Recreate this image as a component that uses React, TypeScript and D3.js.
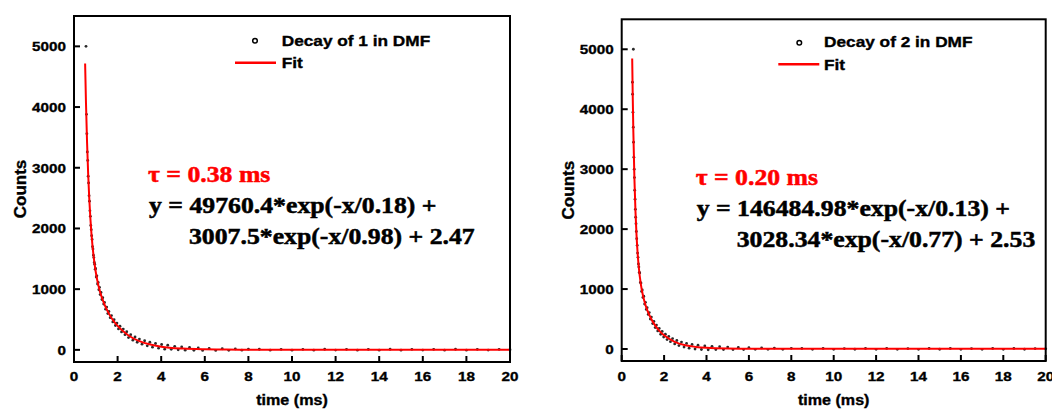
import React, { useEffect, useRef } from 'react';
import * as d3 from 'd3';

const W = 1052;
const H = 412;

const xTicks = [0, 2, 4, 6, 8, 10, 12, 14, 16, 18, 20];
const yTicks = [0, 1000, 2000, 3000, 4000, 5000];
const xDomain = [0, 20];
const yDomain = [-200, 5500];

// measured decay, sample 1 (time in ms, counts)
const decay1Time = [0.55, 0.57, 0.59, 0.61, 0.63, 0.65, 0.67, 0.69, 0.71, 0.73, 0.75, 0.77, 0.79, 0.81, 0.83, 0.85, 0.87, 0.89, 0.91, 0.93, 0.95, 0.97, 0.99, 1.02, 1.05, 1.08, 1.11, 1.14, 1.17, 1.2, 1.24, 1.28, 1.32, 1.36, 1.4, 1.45, 1.5, 1.55, 1.6, 1.66, 1.72, 1.78, 1.84, 1.9, 1.97, 2.04, 2.11, 2.18, 2.26, 2.34, 2.42, 2.5, 2.6, 2.7, 2.8, 2.9, 3.0, 3.12, 3.24, 3.36, 3.48, 3.6, 3.74, 3.88, 4.02, 4.16, 4.3, 4.46, 4.62, 4.78, 4.94, 5.1, 5.3, 5.5, 5.7, 5.9, 6.2, 6.5, 6.8, 7.1, 7.4, 7.7, 8.0, 8.5, 9, 9.5, 10, 10.5, 11, 11.5, 12, 12.5, 13, 13.5, 14, 14.5, 15, 15.5, 16, 16.5, 17, 17.5, 18, 18.5, 19, 19.5, 20];
const decay1Counts = [5000, 3880, 3560, 3260, 3120, 2860, 2750, 2540, 2450, 2290, 2200, 2050, 1980, 1880, 1820, 1700, 1660, 1560, 1520, 1440, 1410, 1330, 1340, 1200, 1220, 1085, 1110, 990, 1030, 910, 945, 830, 860, 755, 780, 670, 705, 597, 632, 530, 565, 460, 498, 401, 442, 345, 390, 296, 342, 250, 298, 202, 250, 160, 212, 125, 178, 93, 150, 67, 125, 45, 105, 27, 88, 12, 76, 10, 58, 0, 48, -5, 40, -8, 32, -10, 24, -10, 18, -8, 15, -6, 12, 10, -6, 9, -5, 8, -6, 10, -4, 9, -6, 8, -5, 10, -6, 9, -4, 8, -6, 10, -5, 9, -4, 8, 3];

// fitted curve, sample 1
const fit1Time = [0.51, 0.55, 0.6, 0.65, 0.7, 0.75, 0.8, 0.9, 1.0, 1.1, 1.2, 1.4, 1.6, 1.8, 2.0, 2.5, 3, 3.5, 4, 5, 6, 7, 8, 10, 14, 20];
const fit1Counts = [4717, 4061, 3408, 2897, 2493, 2172, 1915, 1538, 1278, 1091, 949, 744, 597, 483, 394, 237, 143, 87, 53, 21, 9, 5, 3, 2.5, 2.5, 2.5];

// measured decay, sample 2
const decay2Time = [0.55, 0.505, 0.515, 0.53, 0.545, 0.56, 0.575, 0.59, 0.6, 0.615, 0.63, 0.645, 0.66, 0.675, 0.69, 0.71, 0.73, 0.75, 0.77, 0.79, 0.81, 0.83, 0.85, 0.88, 0.91, 0.94, 0.97, 1.0, 1.04, 1.08, 1.12, 1.16, 1.2, 1.25, 1.3, 1.35, 1.4, 1.46, 1.52, 1.58, 1.64, 1.7, 1.77, 1.84, 1.91, 1.98, 2.06, 2.14, 2.22, 2.3, 2.4, 2.5, 2.6, 2.7, 2.82, 2.94, 3.06, 3.18, 3.32, 3.46, 3.6, 3.76, 3.92, 4.08, 4.26, 4.44, 4.62, 4.8, 5.0, 5.25, 5.5, 5.75, 6.0, 6.3, 6.6, 6.9, 7.2, 7.6, 8.0, 8.5, 9, 9.5, 10, 10.5, 11, 11.5, 12, 12.5, 13, 13.5, 14, 14.5, 15, 15.5, 16, 16.5, 17, 17.5, 18, 18.5, 19, 19.5, 20];
const decay2Counts = [5000, 4450, 4250, 3950, 3700, 3450, 3200, 3000, 2860, 2650, 2500, 2330, 2200, 2090, 1960, 1840, 1730, 1600, 1530, 1420, 1370, 1280, 1270, 1110, 1100, 960, 985, 860, 880, 750, 778, 660, 690, 577, 608, 499, 532, 425, 460, 357, 400, 302, 343, 246, 293, 200, 248, 157, 210, 122, 174, 85, 142, 58, 115, 33, 94, 14, 77, 0, 64, -8, 52, -12, 45, -10, 38, -8, 32, -8, 26, -8, 22, -6, 18, -6, 15, -5, 12, 9, -5, 10, -6, 8, -4, 9, -6, 10, -5, 8, -6, 9, -4, 10, -5, 8, -6, 9, -5, 10, -4, 8, 3];

// fitted curve, sample 2
const fit2Time = [0.495, 0.52, 0.55, 0.6, 0.65, 0.7, 0.75, 0.8, 0.9, 1.0, 1.1, 1.2, 1.4, 1.6, 1.8, 2.0, 2.5, 3, 3.5, 4, 5, 6, 8, 12, 20];
const fit2Counts = [4847, 4227, 3615, 2842, 2292, 1895, 1604, 1385, 1088, 896, 760, 654, 497, 382, 295, 228, 120, 64, 35, 19, 7, 4, 2.6, 2.5, 2.5];

const SANS = "'Liberation Sans', Arial, sans-serif";
const SERIF = "'Liberation Serif', 'Times New Roman', serif";
const RED = '#ff0000';
const SX = 1.15; // the picture is a bit wider than tall

const panels = [
  {
    box: { left: 74, top: 16, right: 510, bottom: 362 },
    decayTime: decay1Time, decayCounts: decay1Counts,
    fitTime: fit1Time, fitCounts: fit1Counts,
    legendName: 'Decay of 1 in DMF',
    legend: { cx: 255, cy: 40.7, tx: 281.7, ty: 46, lx1: 235, lx2: 276, ly: 62.7, fy: 68 },
    tau: 'τ = 0.38 ms',
    eq1: 'y = 49760.4*exp(-x/0.18) +',
    eq2: '3007.5*exp(-x/0.98) + 2.47',
  },
  {
    box: { left: 621.7, top: 19.3, right: 1045.7, bottom: 361 },
    decayTime: decay2Time, decayCounts: decay2Counts,
    fitTime: fit2Time, fitCounts: fit2Counts,
    legendName: 'Decay of 2 in DMF',
    legend: { cx: 799.3, cy: 42.7, tx: 824, ty: 47.3, lx1: 778.3, lx2: 819.3, ly: 64.3, fy: 70 },
    tau: 'τ = 0.20 ms',
    eq1: 'y = 146484.98*exp(-x/0.13) +',
    eq2: '3028.34*exp(-x/0.77) + 2.53',
  },
];

function stext(g: any, x: number, y: number, str: string, size: number, family: string, anchor = 'start', fill = '#000', sx = SX, sw = 0.35) {
  return g.append('text')
    .attr('transform', `translate(${x},${y}) scale(${sx},1)`)
    .attr('text-anchor', anchor)
    .style('font-family', family)
    .style('font-weight', 'bold')
    .style('font-size', size + 'px')
    .attr('fill', fill)
    .attr('stroke', fill)
    .attr('stroke-width', sw)
    .text(str);
}

export default function App() {
  const ref = useRef<SVGSVGElement>(null);

  useEffect(() => {
    const svg = d3.select(ref.current);
    svg.selectAll('*').remove();

    panels.forEach(p => {
      const b = p.box;
      const x = d3.scaleLinear().domain(xDomain).range([b.left, b.right]);
      const y = d3.scaleLinear().domain(yDomain).range([b.bottom, b.top]);
      const g = svg.append('g');

      // data points
      const pts = p.decayTime.map((t, i) => [t, p.decayCounts[i]]);
      g.selectAll('circle.pt')
        .data(pts)
        .enter()
        .append('circle')
        .attr('class', 'pt')
        .attr('cx', d => x(d[0]))
        .attr('cy', d => y(d[1]))
        .attr('r', 1.4)
        .attr('fill', '#2a2a2a');

      // fit line
      const fit = p.fitTime.map((t, i) => [t, p.fitCounts[i]] as [number, number]);
      g.append('path')
        .datum(fit)
        .attr('d', d3.line<[number, number]>()
          .x(d => x(d[0]))
          .y(d => y(d[1]))
          .curve(d3.curveMonotoneX))
        .attr('fill', 'none')
        .attr('stroke', RED)
        .attr('stroke-width', 2);

      // frame
      g.append('rect')
        .attr('x', b.left)
        .attr('y', b.top)
        .attr('width', b.right - b.left)
        .attr('height', b.bottom - b.top)
        .attr('fill', 'none')
        .attr('stroke', '#000')
        .attr('stroke-width', 2);

      // x ticks (inward)
      xTicks.forEach(t => {
        g.append('line')
          .attr('x1', x(t)).attr('x2', x(t))
          .attr('y1', b.bottom).attr('y2', b.bottom - 6)
          .attr('stroke', '#000').attr('stroke-width', 2);
        stext(g, x(t), 380.5, String(t), 13.5, SANS, 'middle', '#000', 1.13);
      });

      // y ticks (inward)
      yTicks.forEach(t => {
        g.append('line')
          .attr('x1', b.left).attr('x2', b.left + 6)
          .attr('y1', y(t)).attr('y2', y(t))
          .attr('stroke', '#000').attr('stroke-width', 2);
        stext(g, b.left - 8, y(t) + 4.8, String(t), 13.5, SANS, 'end', '#000', 1.13);
      });

      // axis titles
      stext(g, (b.left + b.right) / 2, 405, 'time (ms)', 14, SANS, 'middle');
      g.append('text')
        .attr('transform', `translate(${b.left - 48},${(b.top + b.bottom) / 2}) rotate(-90)`)
        .attr('text-anchor', 'middle')
        .style('font-family', SANS)
        .style('font-weight', 'bold')
        .style('font-size', '17px')
        .attr('stroke', '#000')
        .attr('stroke-width', 0.35)
        .text('Counts');

      // legend
      const l = p.legend;
      g.append('circle')
        .attr('cx', l.cx).attr('cy', l.cy).attr('r', 2.3)
        .attr('fill', '#fff').attr('stroke', '#000').attr('stroke-width', 1.5);
      stext(g, l.tx, l.ty, p.legendName, 15, SANS);
      g.append('line')
        .attr('x1', l.lx1).attr('x2', l.lx2)
        .attr('y1', l.ly).attr('y2', l.ly)
        .attr('stroke', RED).attr('stroke-width', 2.5);
      stext(g, l.tx, l.fy, 'Fit', 15, SANS);

      // annotation
      stext(g, b.left + 74, b.top + 166, p.tau, 23, SERIF, 'start', RED, 1.12, 0.5);
      stext(g, b.left + 75, b.top + 197, p.eq1, 23, SERIF, 'start', '#000', 1.12, 0.5);
      stext(g, b.left + 115, b.top + 227.5, p.eq2, 23, SERIF, 'start', '#000', 1.12, 0.5);
    });
  }, []);

  return (
    <svg
      ref={ref}
      width={W}
      height={H}
      style={{ position: 'absolute', left: 0, top: 0, background: '#fff' }}
    />
  );
}
